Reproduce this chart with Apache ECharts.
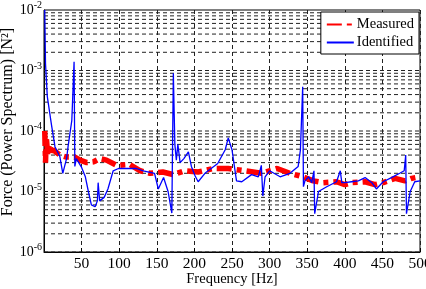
<!DOCTYPE html>
<html>
<head>
<meta charset="utf-8">
<script src="https://cdn.jsdelivr.net/npm/echarts@6/dist/echarts.min.js"></script>
<style>
  html, body { margin: 0; padding: 0; background: #fff; }
  #main { width: 426px; height: 289px; }
</style>
</head>
<body>
<div id="main"></div>
<script>
// measured force spectrum (red dash-dot)
var measFreq = [1, 2, 3, 5, 7, 10, 12, 21, 30, 41, 48, 57, 66, 74, 83, 97, 114, 128, 141, 158, 172, 187, 205, 225, 245, 267, 289, 310, 327, 344, 358, 371, 389, 400, 409, 427, 440, 451, 467, 480, 489, 500];
var measVal = [1e-4, 3e-5, 8e-5, 4e-5, 6e-5, 4.5e-5, 4.9e-5, 4e-5, 3.7e-5, 3.7e-5, 3.3e-5, 3e-5, 3.1e-5, 3.5e-5, 3.3e-5, 2.7e-5, 2.8e-5, 2.2e-5, 2e-5, 2.1e-5, 1.9e-5, 2.2e-5, 2.1e-5, 2.4e-5, 2.4e-5, 2.2e-5, 2e-5, 2.4e-5, 2e-5, 1.75e-5, 1.5e-5, 1.4e-5, 1.45e-5, 1.3e-5, 1.4e-5, 1.45e-5, 1.3e-5, 1.4e-5, 1.65e-5, 1.5e-5, 1.65e-5, 1.75e-5];

// identified force spectrum (blue)
var idFreq = [1, 2, 4.4, 10, 14.6, 21, 25, 30, 32, 37, 40, 41, 43, 50, 55, 59, 63, 68, 71, 72, 74, 80, 85, 92, 99, 110, 123, 132, 147, 152, 159, 165, 170, 172, 174, 176, 178, 181, 186, 192, 196, 201, 205, 214, 231, 241, 245, 250, 256, 263, 276, 285, 289, 291, 294, 300, 314, 327, 338, 341, 344, 345, 347, 352, 356, 359, 360, 365, 376, 389, 394, 396, 400, 409, 418, 427, 436, 442, 451, 462, 473, 479, 481, 482, 487, 493, 500];
var idVal = [1e-2, 1.3e-3, 3.7e-4, 1.25e-4, 5.5e-5, 3.8e-5, 2e-5, 3.5e-5, 5.5e-5, 1.5e-4, 1.4e-3, 2.6e-5, 3.5e-5, 2.5e-5, 1.75e-5, 1e-5, 6e-6, 5.6e-6, 7e-6, 1.4e-5, 7e-6, 8e-6, 1.1e-5, 2.2e-5, 2.4e-5, 2.4e-5, 2.4e-5, 2.2e-5, 2e-5, 1.1e-5, 1.7e-5, 1e-5, 4.4e-6, 9e-4, 6e-5, 3.3e-5, 6e-5, 3e-5, 3.5e-5, 4.5e-5, 2.6e-5, 1.8e-5, 1.45e-5, 2e-5, 2.9e-5, 4.9e-5, 7.7e-5, 4.9e-5, 1.5e-5, 1.45e-5, 1.9e-5, 1.75e-5, 2.7e-5, 8.4e-6, 1.75e-5, 2.2e-5, 1.75e-5, 2e-5, 2.6e-5, 4.9e-5, 5.4e-4, 1.2e-5, 1.5e-5, 1.75e-5, 1.4e-5, 2.2e-5, 4.3e-6, 1e-5, 1.2e-5, 1.45e-5, 2.2e-5, 1.4e-5, 1.4e-5, 1.45e-5, 1.5e-5, 1.7e-5, 1.4e-5, 1.1e-5, 1.45e-5, 1.7e-5, 2e-5, 2.2e-5, 4e-5, 4.3e-6, 1e-5, 1.45e-5, 1.5e-5];

var xTicks = [50, 100, 150, 200, 250, 300, 350, 400, 450, 500];

// horizontal log grid lines at 1..9 x 10^k, drawn as one broken line
var gridLine = [];
for (var k = -6; k <= -3; k++) {
  for (var m = 1; m <= 9; m++) {
    var g = m * Math.pow(10, k);
    gridLine.push([0, g], [500, g], [250, '-']);
  }
}

function zip(a, b) {
  return a.map(function (v, i) { return [v, b[i]]; });
}

var font = "'Liberation Serif', 'Times New Roman', serif";
var chart = echarts.init(document.getElementById('main'));
chart.setOption({
  animation: false,
  grid: {
    left: 44, right: 6, top: 10, bottom: 37,
    outerBoundsMode: 'none',
    containLabel: false,
    show: true, borderColor: '#000', borderWidth: 1
  },
  legend: {
    data: ['Measured', 'Identified'],
    orient: 'vertical',
    right: 7, top: 12,
    backgroundColor: '#fff',
    borderColor: '#000', borderWidth: 1,
    padding: [5, 5, 4, 5],
    itemGap: 3,
    itemWidth: 27, itemHeight: 14,
    itemStyle: { opacity: 0 },
    textStyle: { fontFamily: font, fontSize: 14.5, color: '#000', padding: [0, 0, 0, -2] }
  },
  xAxis: {
    type: 'value',
    min: 0, max: 500, interval: 50,
    name: 'Frequency [Hz]',
    nameLocation: 'middle', nameGap: 20,
    nameMoveOverlap: false,
    nameTextStyle: { fontFamily: font, fontSize: 14.5, color: '#000' },
    axisLine: { show: true, lineStyle: { color: '#000' } },
    axisTick: { inside: true, length: 4, lineStyle: { color: '#000' } },
    axisLabel: {
      fontFamily: font, fontSize: 15.5, color: '#000', margin: 4,
      formatter: function (v) { return xTicks.indexOf(v) >= 0 ? String(v) : ''; }
    },
    splitLine: { show: true, lineStyle: { color: '#222', type: [4, 3], width: 1 } }
  },
  yAxis: {
    type: 'log', logBase: 10,
    min: 1e-6, max: 1e-2,
    name: 'Force (Power Spectrum) [N\u00b2]',
    nameLocation: 'middle', nameGap: 28,
    nameMoveOverlap: false,
    nameTextStyle: { fontFamily: font, fontSize: 16, color: '#000', padding: [0, 0, 0, 18] },
    axisLine: { show: true, lineStyle: { color: '#000' } },
    axisTick: { show: false },
    splitLine: { show: false },
    axisLabel: {
      margin: 2,
      formatter: function (v) {
        var e = Math.round(Math.log10(v));
        return '{b|10}{s|' + e + '}';
      },
      rich: {
        b: { fontFamily: font, fontSize: 14, color: '#000' },
        s: { fontFamily: font, fontSize: 10, color: '#000', verticalAlign: 'top', padding: [0, 0, 9, 0] }
      }
    }
  },
  series: [
    {
      name: 'grid', type: 'line', z: 1, silent: true,
      data: gridLine,
      connectNulls: false,
      showSymbol: false, symbol: 'none',
      lineStyle: { color: '#222', type: [4, 3], width: 1 }
    },
    {
      name: 'Measured', type: 'line', z: 3,
      data: zip(measFreq, measVal),
      showSymbol: false, symbol: 'none',
      lineStyle: { color: '#ff0000', width: 5.5, type: [15, 5, 5, 5] },
      itemStyle: { color: '#ff0000' }
    },
    {
      name: 'Identified', type: 'line', z: 4,
      data: zip(idFreq, idVal),
      showSymbol: false, symbol: 'none',
      lineStyle: { color: '#0000ff', width: 1.3 },
      itemStyle: { color: '#0000ff' }
    }
  ]
});
</script>
</body>
</html>
